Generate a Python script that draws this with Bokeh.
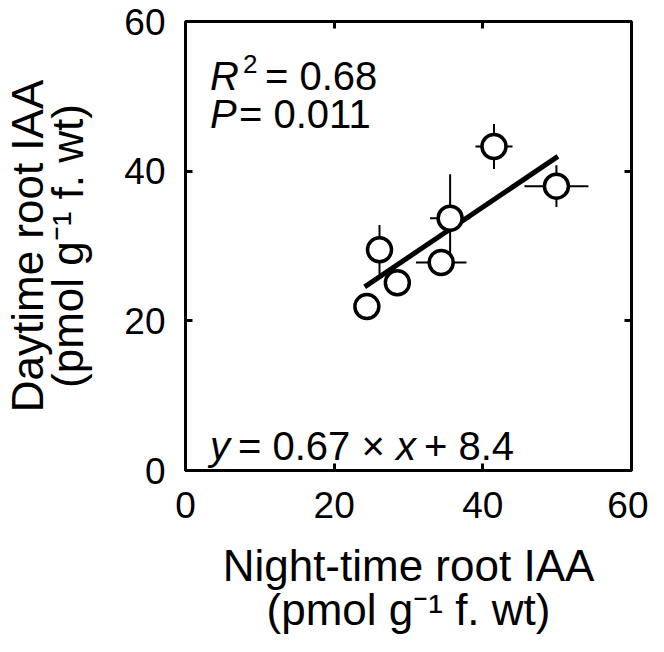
import numpy as np
from bokeh.plotting import figure
from bokeh.models import LinearAxis, FixedTicker, Range1d
from bokeh.core.properties import value
from bokeh.embed import file_html
from bokeh.resources import INLINE

# Data
night_iaa = [24.4, 26.1, 28.5, 34.4, 35.6, 41.5, 49.9]
day_iaa = [21.9, 29.5, 25.1, 27.8, 33.7, 43.3, 38.0]
night_err = [1.0, 1.0, 1.0, 3.4, 2.7, 2.5, 4.3]
day_err = [1.0, 3.3, 1.0, 1.0, 5.9, 3.0, 2.8]
slope = 0.67
intercept = 8.4
ticks = [0, 20, 40, 60]

FONT = "Liberation Sans"

p = figure(width=648, height=636, output_backend="svg", toolbar_location=None,
           x_range=Range1d(0, 60), y_range=Range1d(0, 60),
           min_border_left=181, min_border_right=17, min_border_top=21,
           min_border_bottom=165)
p.grid.visible = False
p.outline_line_color = "black"
p.outline_line_width = 3
p.background_fill_color = "white"
p.border_fill_color = "white"

for ax in (p.xaxis[0], p.yaxis[0]):
    ax.ticker = FixedTicker(ticks=ticks)
    ax.axis_line_color = None
    ax.major_tick_in = 7
    ax.major_tick_out = 0
    ax.major_tick_line_width = 3
    ax.minor_tick_line_color = None
    ax.major_label_text_font = FONT
    ax.major_label_text_font_size = "37px"
    ax.major_label_text_color = "black"
    ax.axis_label_text_font = FONT
    ax.axis_label_text_font_size = "44px"
    ax.axis_label_text_font_style = "normal"
    ax.axis_label_text_color = "black"

p.xaxis[0].axis_label_text_line_height = 0.9
p.yaxis[0].axis_label_text_line_height = 0.82
p.xaxis[0].major_label_standoff = 21
p.xaxis[0].axis_label_standoff = 20
p.yaxis[0].major_label_standoff = 20
p.yaxis[0].axis_label_standoff = 29
p.xaxis[0].axis_label = "Night-time root IAA\n(pmol g\u207b\u00b9 f. wt)"
p.yaxis[0].axis_label = "Daytime root IAA\n(pmol g\u207b\u00b9 f. wt)"

for loc in ("above", "right"):
    ax = LinearAxis(ticker=FixedTicker(ticks=[20, 40]))
    ax.axis_line_color = None
    ax.major_tick_in = 7
    ax.major_tick_out = 0
    ax.major_tick_line_width = 3
    ax.minor_tick_line_color = None
    ax.major_label_text_color = None
    ax.major_label_text_font_size = "1px"
    ax.major_label_standoff = 0
    p.add_layout(ax, loc)

x = np.array(night_iaa)
y = np.array(day_iaa)
xe = np.array(night_err)
ye = np.array(day_err)

# error bars
p.segment(x0=x - xe, y0=y, x1=x + xe, y1=y, line_color="black", line_width=2)
p.segment(x0=x, y0=y - ye, x1=x, y1=y + ye, line_color="black", line_width=2)

# regression line
xf = np.array([x.min() - 0.3, x.max() + 0.2])
p.line(xf, slope * xf + intercept, line_color="black", line_width=5)

# points
p.scatter(x, y, marker="circle", size=24, fill_color="white",
          line_color="black", line_width=3.5)

# annotations
def txt(xx, yy, s, off=0, yoff=0, italic=False, size="40px"):
    p.text(x=[xx], y=[yy], text=[s], x_offset=off, y_offset=yoff,
           text_font=value(FONT), text_font_size=size,
           text_font_style="italic" if italic else "normal",
           text_baseline="alphabetic", text_align="left", text_color="black")

txt(3.3, 52.7, "R", italic=True)
txt(3.3, 52.7, "2", off=33, yoff=-12, size="26px")
txt(3.3, 52.7, "= 0.68", off=55)
txt(3.3, 47.6, "P", italic=True)
txt(3.3, 47.6, "= 0.011", off=29)
txt(3.3, 3.3, "y", italic=True)
txt(3.3, 3.3, "= 0.67 \u00d7", off=28)
txt(3.3, 3.3, "x", italic=True, off=186)
txt(3.3, 3.3, "+ 8.4", off=214)

open("out.html", "w").write(file_html(p, INLINE))
